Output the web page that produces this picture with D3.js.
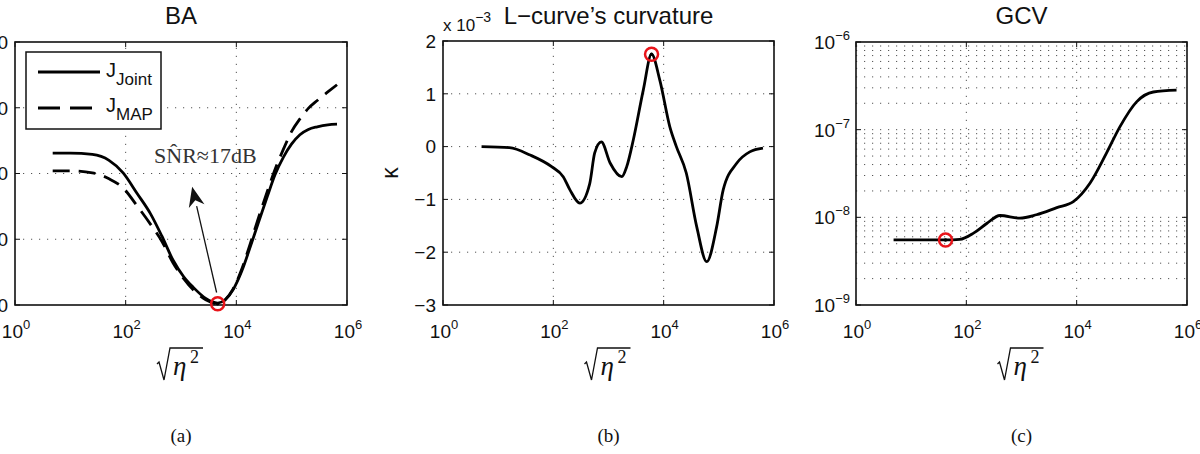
<!DOCTYPE html>
<html>
<head>
<meta charset="utf-8">
<style>
  body { margin: 0; background: #fff; }
  svg { display: block; }
  text { font-family: "Liberation Sans", Arial, sans-serif; fill: #111; }
  .serif { font-family: "Liberation Serif", "Times New Roman", serif; }
  .grid { stroke: #555; stroke-width: 1; stroke-dasharray: 1.2,6.8; fill: none; }
  .frame { fill: none; stroke: #111; stroke-width: 1.6; }
  .curve { fill: none; stroke: #000; stroke-width: 2.8; }
</style>
</head>
<body>
<script src="https://cdn.jsdelivr.net/npm/d3@7"></script>
<script>
// ---- data ----
// (a) BA
var etaA = [4.8, 10, 25, 50, 90, 160, 280, 450, 720, 1120, 1660, 2800, 4600, 6300, 8700,
            12600, 17800, 25000, 36000, 50000, 71000, 100000, 141000, 200000, 290000, 450000, 660000];
var jJoint = [33.1, 33.1, 32.9, 32.0, 30.1, 27.0, 23.9, 20.5, 16.8, 14.3, 12.7, 11.0, 10.3, 10.8, 12.3,
              15.2, 18.8, 22.5, 26.4, 29.8, 32.5, 34.5, 35.9, 36.7, 37.1, 37.4, 37.5];
var jMap = [30.4, 30.4, 30.1, 29.2, 27.8, 25.1, 22.3, 19.7, 16.4, 14.0, 12.3, 10.8, 10.2, 10.8, 12.4,
            15.5, 19.3, 23.2, 27.2, 30.6, 33.7, 36.4, 38.3, 39.9, 41.1, 42.4, 43.5];
var yTicksA = [10, 20, 30, 40, 50];
var bestA = {eta: 4600, v: 10.2};

// (b) L-curve curvature (x 10^-3)
var etaB = [5.0, 16, 38, 93, 151, 200, 302, 457, 562, 741, 1070, 1740, 2140, 2820, 4270, 6030,
            8510, 12900, 17000, 25700, 39800, 60300, 91200, 120000, 209000, 363000, 631000];
var kappa = [0.0, -0.02, -0.16, -0.38, -0.57, -0.82, -1.07, -0.70, -0.12, 0.09, -0.31, -0.57, -0.38, 0.13, 1.07, 1.75,
             1.26, 0.38, 0.0, -0.50, -1.52, -2.18, -1.52, -0.82, -0.32, -0.10, -0.03];
var yTicksB = [-3, -2, -1, 0, 1, 2];
var bestB = {eta: 6030, v: 1.75};

// (c) GCV
var etaC = [4.8, 16, 42, 76, 135, 234, 407, 933, 1860, 4370, 8710, 17400, 34700, 60300, 123000, 245000, 646000];
var gcv = [5.52e-9, 5.52e-9, 5.52e-9, 5.6e-9, 6.6e-9, 8.5e-9, 1.05e-8, 9.8e-9, 1.07e-8, 1.29e-8, 1.51e-8,
           2.45e-8, 5.4e-8, 1.07e-7, 2.09e-7, 2.69e-7, 2.82e-7];
var yExpC = [-9, -8, -7, -6];
var bestC = {eta: 42, v: 5.52e-9};

var xExp = [0, 2, 4, 6];
var titles = ["BA", "L\u2212curve\u2019s curvature", "GCV"];
var captions = ["(a)", "(b)", "(c)"];

// ---- page ----
var svg = d3.select("body").append("svg")
  .attr("width", 1200)
  .attr("height", 454);

var boxes = [
  {left: 15, right: 347, top: 42, bottom: 305},
  {left: 443, right: 774, top: 41, bottom: 305},
  {left: 856, right: 1187, top: 42, bottom: 305}
];

function supText(g, x, y, base, sup, anchor, size) {
  var t = g.append("text")
    .attr("x", x).attr("y", y)
    .attr("text-anchor", anchor)
    .style("font-size", size + "px");
  t.append("tspan").text(base);
  t.append("tspan").attr("dy", -9).style("font-size", "13px").text(sup);
  return t;
}

function sqrtLabel(g, cx, y) {
  // y = baseline of eta
  var x0 = cx - 24;
  g.append("path")
    .attr("d", "M" + x0 + "," + (y - 11) + " L" + (x0 + 2) + "," + (y - 13) +
      " L" + (x0 + 7) + "," + (y + 5) + " L" + (x0 + 13) + "," + (y - 27) +
      " L" + (x0 + 46) + "," + (y - 27))
    .attr("fill", "none").attr("stroke", "#111").attr("stroke-width", 1.3);
  g.append("text").attr("class", "serif")
    .attr("x", x0 + 16).attr("y", y)
    .style("font-size", "27px").style("font-style", "italic")
    .text("\u03B7");
  g.append("text").attr("class", "serif")
    .attr("x", x0 + 33).attr("y", y - 12)
    .style("font-size", "18px")
    .text("2");
}

function makePanel(i, yScale, yTicks, yLabel, minorY) {
  var b = boxes[i];
  var g = svg.append("g");
  var x = d3.scaleLog().domain([1, 1e6]).range([b.left, b.right]);
  var cx = (b.left + b.right) / 2;

  // grid
  var gy = minorY || yTicks;
  g.selectAll(".hg").data(gy.filter(function(v) {
      var p = yScale(v); return p > b.top + 1 && p < b.bottom - 1; }))
    .enter().append("line").attr("class", "grid")
    .attr("x1", b.left).attr("x2", b.right)
    .attr("y1", function(d) { return yScale(d); })
    .attr("y2", function(d) { return yScale(d); });
  g.selectAll(".vg").data([1e2, 1e4]).enter().append("line").attr("class", "grid")
    .attr("x1", function(d) { return x(d); }).attr("x2", function(d) { return x(d); })
    .attr("y1", b.bottom).attr("y2", b.top);

  // inward ticks
  xExp.forEach(function(e) {
    var px = x(Math.pow(10, e));
    g.append("line").attr("x1", px).attr("x2", px).attr("y1", b.bottom).attr("y2", b.bottom - 5).attr("stroke", "#111");
    g.append("line").attr("x1", px).attr("x2", px).attr("y1", b.top).attr("y2", b.top + 5).attr("stroke", "#111");
    supText(g, px + 1, 338, "10", String(e), "middle", 19);
  });
  yTicks.forEach(function(v) {
    var py = yScale(v);
    g.append("line").attr("x1", b.left).attr("x2", b.left + 5).attr("y1", py).attr("y2", py).attr("stroke", "#111");
    g.append("line").attr("x1", b.right).attr("x2", b.right - 5).attr("y1", py).attr("y2", py).attr("stroke", "#111");
    yLabel(g, b.left - 7, py, v);
  });

  g.append("rect").attr("class", "frame")
    .attr("x", b.left).attr("y", b.top)
    .attr("width", b.right - b.left).attr("height", b.bottom - b.top);

  g.append("text").attr("x", cx).attr("y", 24).attr("text-anchor", "middle")
    .style("font-size", "24px").text(titles[i]);
  sqrtLabel(g, cx, 375);
  g.append("text").attr("class", "serif").attr("x", cx).attr("y", 442)
    .attr("text-anchor", "middle").style("font-size", "19px").text(captions[i]);

  return {g: g, x: x};
}

function plainLabel(g, x, y, v) {
  g.append("text").attr("x", x).attr("y", y).attr("dy", "0.36em")
    .attr("text-anchor", "end").style("font-size", "19px")
    .text(String(v).replace("-", "\u2212"));
}

function drawCurve(p, y, xs, ys, dash) {
  var line = d3.line()
    .x(function(d) { return p.x(d[0]); })
    .y(function(d) { return y(d[1]); })
    .curve(d3.curveMonotoneX);
  var path = p.g.append("path").attr("class", "curve")
    .attr("d", line(d3.zip(xs, ys)));
  if (dash) path.attr("stroke-dasharray", dash);
}

function marker(p, y, pt) {
  var cx = p.x(pt.eta), cy = y(pt.v);
  p.g.append("circle").attr("cx", cx).attr("cy", cy).attr("r", 1.8).attr("fill", "#000");
  p.g.append("circle").attr("cx", cx).attr("cy", cy).attr("r", 6.5)
    .attr("fill", "none").attr("stroke", "#e8141a").attr("stroke-width", 2.5);
}

// ---- (a) ----
var yA = d3.scaleLinear().domain([10, 50]).range([boxes[0].bottom, boxes[0].top]);
var pA = makePanel(0, yA, yTicksA, plainLabel);
drawCurve(pA, yA, etaA, jMap, "17,9");
drawCurve(pA, yA, etaA, jJoint, null);
marker(pA, yA, bestA);

// arrow + annotation
var tail = [pA.x(4400), yA(11.9)], tip = [pA.x(1590), yA(28.0)];
var dx = tip[0] - tail[0], dy = tip[1] - tail[1], len = Math.sqrt(dx * dx + dy * dy);
var ux = dx / len, uy = dy / len;
var hb = [tip[0] - ux * 20, tip[1] - uy * 20];
pA.g.append("line").attr("x1", tail[0]).attr("y1", tail[1]).attr("x2", hb[0]).attr("y2", hb[1])
  .attr("stroke", "#111").attr("stroke-width", 1.3);
pA.g.append("path")
  .attr("d", "M" + tip[0] + "," + tip[1] +
    " L" + (hb[0] - uy * 8) + "," + (hb[1] + ux * 8) +
    " L" + (tip[0] - ux * 14) + "," + (tip[1] - uy * 14) +
    " L" + (hb[0] + uy * 8) + "," + (hb[1] - ux * 8) + "Z")
  .attr("fill", "#111");
pA.g.append("text").attr("class", "serif")
  .attr("x", pA.x(2750)).attr("y", yA(31.6)).attr("text-anchor", "middle")
  .style("font-size", "22px").style("fill", "#333")
  .text("SN\u0302R\u224817dB");

// legend
var lg = pA.g.append("g");
lg.append("rect").attr("x", 26).attr("y", 52).attr("width", 135).attr("height", 77)
  .attr("fill", "#fff").attr("stroke", "#111").attr("stroke-width", 1.5);
lg.append("line").attr("x1", 38).attr("x2", 100).attr("y1", 72).attr("y2", 72)
  .attr("stroke", "#000").attr("stroke-width", 2.8);
lg.append("line").attr("x1", 38).attr("x2", 92).attr("y1", 108).attr("y2", 108)
  .attr("stroke", "#000").attr("stroke-width", 2.8).attr("stroke-dasharray", "22,10");
[["Joint", 77], ["MAP", 112]].forEach(function(e) {
  var t = lg.append("text").attr("x", 106).attr("y", e[1]).style("font-size", "20px");
  t.append("tspan").text("J");
  t.append("tspan").attr("dy", 8).style("font-size", "17px").text(e[0]);
});

// ---- (b) ----
var yB = d3.scaleLinear().domain([-3, 2]).range([boxes[1].bottom, boxes[1].top]);
var pB = makePanel(1, yB, yTicksB, plainLabel);
drawCurve(pB, yB, etaB, kappa, null);
marker(pB, yB, bestB);
var xt = pB.g.append("text").attr("x", 443).attr("y", 31).style("font-size", "17px");
xt.append("tspan").text("x 10");
xt.append("tspan").attr("dy", -9).style("font-size", "14px").text("\u22123");
pB.g.append("text").attr("transform", "translate(398,173) rotate(-90)")
  .attr("text-anchor", "middle").style("font-size", "23px").text("\u03BA");

// ---- (c) ----
var yC = d3.scaleLog().domain([1e-9, 1e-6]).range([boxes[2].bottom, boxes[2].top]);
var minorC = [];
[-9, -8, -7].forEach(function(e) {
  for (var k = 1; k <= 9; k++) minorC.push(k * Math.pow(10, e));
});
var pC = makePanel(2, yC, yExpC.map(function(e) { return Math.pow(10, e); }), function(g, x, y, v) {
  var e = Math.round(Math.log10(v));
  supText(g, x + 1, y + 7, "10", "\u2212" + Math.abs(e), "end", 19);
}, minorC);
drawCurve(pC, yC, etaC, gcv, null);
marker(pC, yC, bestC);
</script>
</body>
</html>
